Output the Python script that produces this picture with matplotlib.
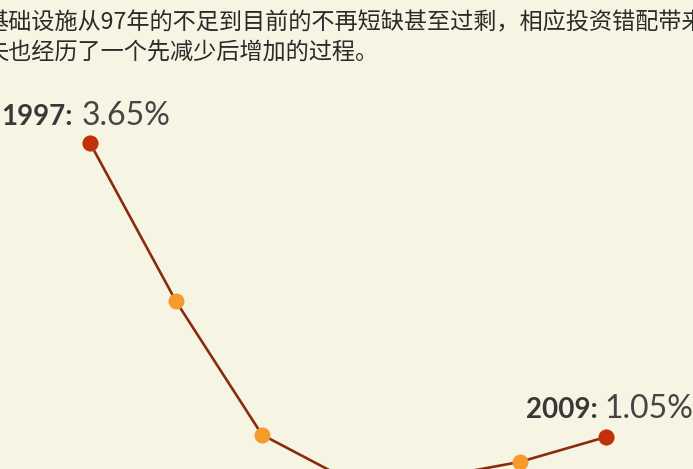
import matplotlib.pyplot as plt

# values (2003 and 2005 fall below the visible area)
years = [1997, 1999, 2001, 2003, 2005, 2007, 2009]
rates = [3.65, 2.25, 1.07, 0.67, 0.69, 0.83, 1.05]
end_years = [1997, 2009]
end_rates = [3.65, 1.05]
end_labels = ["3.65%", "1.05%"]
note_lines = [
    "基础设施从97年的不足到目前的不再短缺甚至过剩，相应投资错配带来的资本损",
    "失也经历了一个先减少后增加的过程。",
]

bg = "#f6f5e3"
fig = plt.figure(figsize=(6.93, 4.69), dpi=100, facecolor=bg)
ax = fig.add_axes([0, 0, 1, 1])
ax.set_facecolor(bg)
ax.set_xlim(1994.907, 2011.023)
ax.set_ylim(0.767, 4.915)
ax.axis("off")

ax.plot(years, rates, color="#8a2c0c", lw=1.9, zorder=2)
ax.plot(years, rates, "o", color="#f59a2c", ms=11.5, mec="none", zorder=3)
ax.plot(end_years, end_rates, "o", color="#c3300c", ms=11.5, mec="none", zorder=4)

offsets = [((-17, 18), (-8, 18)), ((-8, 19), (-2, 19))]
for yr, val, lab, (o1, o2) in zip(end_years, end_rates, end_labels, offsets):
    ax.annotate(f"{yr}:", (yr, val), xytext=o1, textcoords="offset pixels",
                ha="right", va="baseline", fontsize=20, fontweight="bold",
                family="Lato", color="#383838")
    ax.annotate(lab, (yr, val), xytext=o2, textcoords="offset pixels",
                ha="left", va="baseline", fontsize=23, fontweight="normal",
                family="Lato", color="#444444")

for i, line in enumerate(note_lines):
    fig.text(-15 / 693, 1 - (23 + 30 * i) / 469, line, ha="left", va="center",
             fontsize=16.7, family=["Noto Sans CJK SC", "DejaVu Sans"], color="#2a2a2a")

fig.savefig("out.png", dpi=100, facecolor=bg)
